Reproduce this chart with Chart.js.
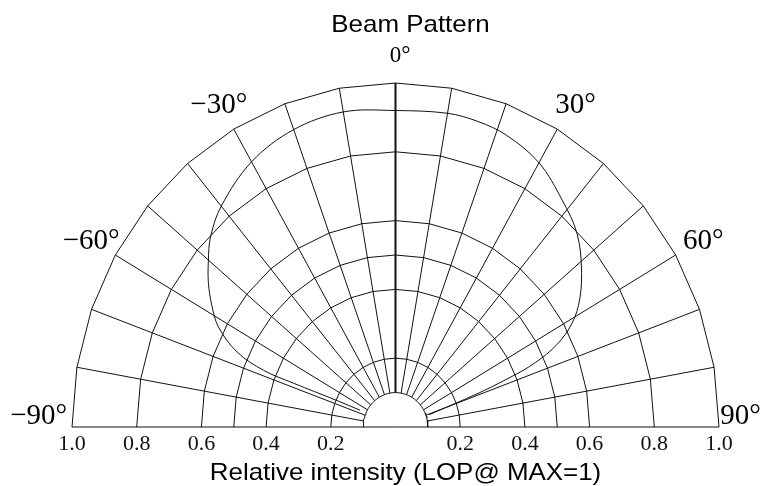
<!DOCTYPE html>
<html>
<head>
  <meta charset="utf-8">
  <script src="https://cdn.jsdelivr.net/npm/chart.js"></script>
  <style>
    body { margin: 0; background: #fff; }
  </style>
</head>
<body>
  <canvas id="beamChart" width="767" height="486"></canvas>

  <script>
    // polar grid: spokes every 10 degrees, rings of relative intensity
    const spokeAngles = [-80, -70, -60, -50, -40, -30, -20, -10, 10, 20, 30, 40, 50, 60, 70, 80];
    const ringAngles = [-90, -80, -70, -60, -50, -40, -30, -20, -10, 0, 10, 20, 30, 40, 50, 60, 70, 80, 90];
    const ringRadii = [0.2, 0.4, 0.5, 0.6, 0.8, 1.0];
    const innerRadius = 0.1;

    // angle labels round the outside
    const angleLabelAngles = [-90, -60, -30, 0, 30, 60, 90];
    const angleLabels = ['−90°', '−60°', '−30°', '0°', '30°', '60°', '90°'];

    // beam pattern (deg, relative intensity)
    const curveAngles = [-66, -67, -68, -68, -66, -62, -58, -54, -50, -46, -40, -30, -20, -10, 0, 10, 16, 22, 30, 38, 45, 52, 58, 62, 65, 67, 68, 69, 71];
    const curveIntensity = [0.12, 0.20, 0.34, 0.44, 0.536, 0.62, 0.67, 0.715, 0.755, 0.795, 0.838, 0.89, 0.92, 0.93, 0.92, 0.926, 0.924, 0.915, 0.887, 0.837, 0.794, 0.73, 0.667, 0.607, 0.534, 0.449, 0.369, 0.277, 0.11];

    const rad = d => d * Math.PI / 180;
    const polar = (deg, r) => ({ x: r * Math.sin(rad(deg)), y: r * Math.cos(rad(deg)) });
    const gap = { x: null, y: null };

    // rings as polygons through the spoke points
    const ringPoints = [];
    ringRadii.forEach(r => {
        ringAngles.forEach(a => ringPoints.push(polar(a, r)));
        ringPoints.push(gap);
    });

    // spokes from the inner half circle outwards, plus the base line
    const spokePoints = [];
    spokeAngles.forEach(a => {
        spokePoints.push(polar(a, innerRadius), polar(a, 1), gap);
    });
    spokePoints.push(polar(-90, 1), polar(90, 1));

    const innerPoints = [];
    for (let a = -90; a <= 90; a += 3) innerPoints.push(polar(a, innerRadius));

    const curvePoints = curveAngles.map((a, i) => polar(a, curveIntensity[i]));

    const lineSet = (data, width, tension) => ({
        data: data,
        showLine: true,
        borderColor: '#111',
        borderWidth: width,
        pointRadius: 0,
        tension: tension,
        clip: false
    });

    // sans text a little wider than the font, like the original
    function wideText(ctx, txt, cx, cy) {
        ctx.save();
        ctx.translate(cx, cy);
        ctx.scale(1.08, 1);
        ctx.fillText(txt, 0, 0);
        ctx.restore();
    }

    const labelsPlugin = {
        id: 'beamLabels',
        afterDraw(chart) {
            const { ctx, chartArea, scales: { x, y } } = chart;
            const x0 = x.getPixelForValue(0);
            ctx.save();
            ctx.fillStyle = '#000';
            ctx.textBaseline = 'alphabetic';
            ctx.textAlign = 'center';
            ctx.font = '24px "Liberation Sans", Arial, sans-serif';
            wideText(ctx, 'Beam Pattern', x0 + 15, chartArea.top - 51);
            wideText(ctx, 'Relative intensity (LOP@ MAX=1)', x0 + 10, chartArea.bottom + 53);

            // angle labels: the digits are centred on the ray
            ctx.textBaseline = 'middle';
            angleLabels.forEach((txt, i) => {
                const a = angleLabelAngles[i];
                ctx.font = (a === 0 ? 23 : 29) + 'px "Liberation Serif", serif';
                if (Math.abs(a) === 90) {
                    ctx.textAlign = a < 0 ? 'right' : 'left';
                    ctx.fillText(txt, x.getPixelForValue(a < 0 ? -1.015 : 1.004), y.getPixelForValue(0.03));
                    return;
                }
                const p = polar(a, 1.078);
                const digits = txt.replace('°', '').replace('−', '');
                const preW = ctx.measureText(txt.startsWith('−') ? '−' : '').width;
                const digW = ctx.measureText(digits).width;
                ctx.textAlign = 'left';
                ctx.fillText(txt, x.getPixelForValue(p.x) - digW / 2 - preW, y.getPixelForValue(p.y));
            });
            ctx.restore();
        }
    };

    const ctx = document.getElementById('beamChart').getContext('2d');
    new Chart(ctx, {
        type: 'scatter',
        data: {
            datasets: [
                lineSet(ringPoints, 1, 0),
                lineSet(spokePoints, 1, 0),
                lineSet([polar(0, innerRadius), polar(0, 1)], 2, 0),
                lineSet(innerPoints, 1, 0),
                lineSet(curvePoints, 1, 0.35)
            ]
        },
        options: {
            responsive: false,
            animation: false,
            layout: { padding: { left: 72, right: 48, top: 83, bottom: 0 } },
            plugins: {
                legend: { display: false },
                tooltip: { enabled: false }
            },
            scales: {
                x: {
                    type: 'linear',
                    min: -1,
                    max: 1,
                    grid: { display: false },
                    border: { display: false },
                    afterFit: scale => { scale.height = 59; },
                    ticks: {
                        stepSize: 0.2,
                        autoSkip: false,
                        maxRotation: 0,
                        padding: -4,
                        color: '#111',
                        font: { family: '"Liberation Serif", serif', size: 22 },
                        callback: v => Math.abs(v) < 1e-9 ? '' : Math.abs(v).toFixed(1)
                    }
                },
                y: {
                    type: 'linear',
                    display: false,
                    min: 0,
                    max: 1
                }
            }
        },
        plugins: [labelsPlugin]
    });
  </script>
</body>
</html>
